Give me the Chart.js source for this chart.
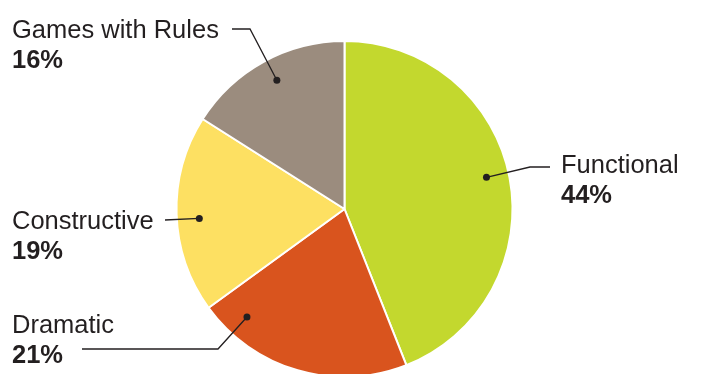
<!DOCTYPE html>
<html>
<head>
<meta charset="utf-8">
<script src="https://cdn.jsdelivr.net/npm/chart.js@4"></script>
<style>
  html, body { margin: 0; padding: 0; background: #fff; }
  #wrap { width: 702px; height: 374px; position: relative; }
</style>
</head>
<body>
<div id="wrap"><canvas id="juego"></canvas></div>
<script>
// tipos de juego (sentido horario desde arriba)
const categorias = ["Functional", "Dramatic", "Constructive", "Games with Rules"];
const porcentajes = [44, 21, 19, 16];
const colores = ["#c3d82e", "#d9541e", "#fde062", "#9b8c7e"];

const TEXTO = "#231f20";
const FUENTE = '"Liberation Sans", Arial, sans-serif';

// donde va cada rótulo y su línea guía
const rotulos = {
  "Functional":       { x: 561, y: 173, angulo: 77.4,  ruta: [[550, 167], [530, 167]] },
  "Dramatic":         { x: 12,  y: 333, angulo: 222.1, ruta: [[82, 349], [218, 349]] },
  "Constructive":     { x: 12,  y: 229, angulo: 266.3, ruta: [[165, 220]] },
  "Games with Rules": { x: 12,  y: 38,  angulo: 332.3, ruta: [[232, 29], [250, 29]] },
};

const rotulosPlugin = {
  id: "rotulos",
  afterDatasetsDraw(chart) {
    const ctx = chart.ctx;
    const meta = chart.getDatasetMeta(0);
    const arco = meta.data[0];
    const { x: cx, y: cy, outerRadius } = arco.getProps(["x", "y", "outerRadius"], true);
    ctx.save();
    categorias.forEach((cat, i) => {
      const r = rotulos[cat];
      const a = (r.angulo * Math.PI) / 180;
      const px = cx + outerRadius * 0.866 * Math.sin(a);
      const py = cy - outerRadius * 0.866 * Math.cos(a);

      // línea guía
      ctx.strokeStyle = TEXTO;
      ctx.lineWidth = 1.3;
      ctx.beginPath();
      ctx.moveTo(r.ruta[0][0], r.ruta[0][1]);
      for (let k = 1; k < r.ruta.length; k++) ctx.lineTo(r.ruta[k][0], r.ruta[k][1]);
      ctx.lineTo(px, py);
      ctx.stroke();

      ctx.fillStyle = TEXTO;
      ctx.beginPath();
      ctx.arc(px, py, 3.5, 0, Math.PI * 2);
      ctx.fill();

      // texto
      ctx.textAlign = "left";
      ctx.textBaseline = "alphabetic";
      ctx.font = "25.5px " + FUENTE;
      ctx.fillText(cat, r.x, r.y);
      ctx.font = "bold 25.5px " + FUENTE;
      ctx.fillText(porcentajes[i] + "%", r.x, r.y + 29.5);
    });
    ctx.restore();
  },
};

new Chart(document.getElementById("juego"), {
  type: "pie",
  data: {
    labels: categorias,
    datasets: [
      {
        data: porcentajes,
        backgroundColor: colores,
        borderColor: "#ffffff",
        borderWidth: 2,
        radius: 168,
      },
    ],
  },
  options: {
    responsive: true,
    maintainAspectRatio: false,
    animation: false,
    layout: { padding: { left: 170, right: 183, top: 44, bottom: 0 } },
    plugins: {
      legend: { display: false },
      tooltip: { enabled: false },
    },
  },
  plugins: [rotulosPlugin],
});
</script>
</body>
</html>
